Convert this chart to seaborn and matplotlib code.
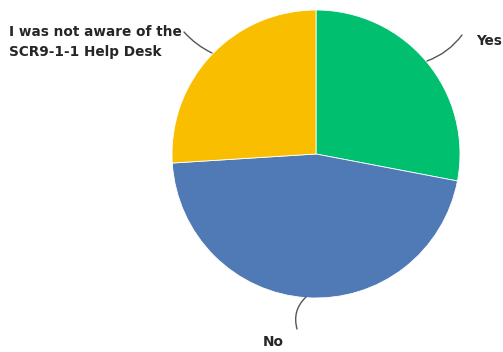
import matplotlib
matplotlib.use("Agg")
import matplotlib.pyplot as plt
import seaborn as sns

# Survey responses: awareness / use of the help desk
labels = ["Yes", "No", "I was not aware of the\nSCR9-1-1 Help Desk"]
shares = [28, 46, 26]
colors = ["#00BF6F", "#4F7AB5", "#F9BE00"]

sns.set_theme(style="white")
plt.rcParams["font.family"] = ["DejaVu Sans"]

W, H = 503, 352
fig = plt.figure(figsize=(W / 100, H / 100), dpi=100)
cx, cy, r = 316, 154, 144
ax = fig.add_axes([(cx - r) / W, (H - cy - r) / H, 2 * r / W, 2 * r / H])
ax.pie(shares, colors=colors, startangle=90, counterclock=False,
       wedgeprops=dict(linewidth=0.6, edgecolor="white"))
ax.set_xlim(-1, 1)
ax.set_ylim(-1, 1)
ax.set_aspect("equal")
ax.axis("off")


def d(px, py):
    return ((px - cx) / r, (cy - py) / r)


line_kw = dict(arrowstyle="-", color="#555555", lw=1.0, shrinkA=0, shrinkB=0)
fs = 9.8
txt_color = "#262626"

# Yes
ax.annotate("", xy=d(427, 61), xytext=d(462, 35),
            arrowprops=dict(connectionstyle="arc3,rad=-0.15", **line_kw))
ax.text(*d(476, 41), labels[0], ha="left", va="center",
        fontsize=fs, fontweight="bold", color=txt_color, clip_on=False)

# Not aware
ax.annotate("", xy=d(212, 53), xytext=d(184, 32),
            arrowprops=dict(connectionstyle="arc3,rad=0.1", **line_kw))
ax.text(*d(9, 42), labels[2], ha="left", va="center", linespacing=1.6,
        fontsize=fs, fontweight="bold", color=txt_color, clip_on=False)

# No
ax.annotate("", xy=d(306, 297), xytext=d(297, 329),
            arrowprops=dict(connectionstyle="arc3,rad=-0.3", **line_kw))
ax.text(*d(273, 342), labels[1], ha="center", va="center",
        fontsize=fs, fontweight="bold", color=txt_color, clip_on=False)

fig.savefig("out.png", dpi=100, facecolor="white")
